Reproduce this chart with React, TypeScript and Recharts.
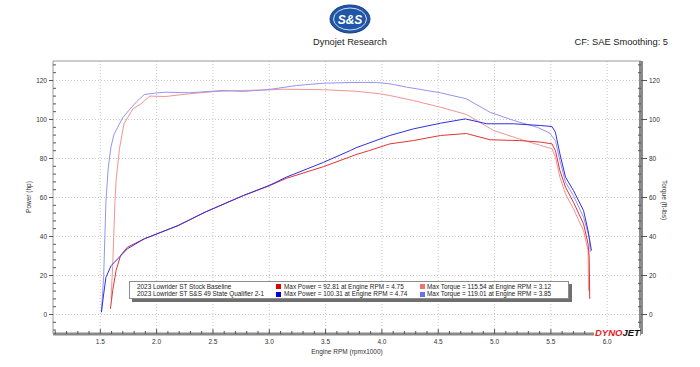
import { LineChart, Line, XAxis, YAxis, CartesianGrid, Legend } from 'recharts';

const FONT = '"Liberation Sans", Arial, sans-serif';

// engine rpm (x1000) and values read off the dyno sheet
const stockPowerRpm = [1.59, 1.61, 1.64, 1.68, 1.74, 1.89, 2.04, 2.19, 2.43, 2.77, 3.0, 3.15, 3.48, 3.77, 3.89, 4.07, 4.28, 4.52, 4.75, 4.96, 5.22, 5.41, 5.51, 5.54, 5.58, 5.63, 5.7, 5.79, 5.83, 5.84, 5.845];
const stockPower = [2.9, 12.3, 22.6, 30.3, 34.5, 38.8, 42.2, 45.6, 52.5, 61, 66, 69.8, 75.8, 82, 84.1, 87.5, 89.2, 91.8, 92.81, 89.6, 89.2, 88.4, 87.5, 84.1, 73.8, 65.3, 57.6, 46.5, 36.2, 29.4, 8];

const ssPowerRpm = [1.51, 1.53, 1.55, 1.595, 1.654, 1.74, 1.89, 2.04, 2.19, 2.43, 2.77, 3.0, 3.15, 3.48, 3.72, 3.77, 4.07, 4.28, 4.52, 4.74, 4.93, 5.17, 5.41, 5.51, 5.54, 5.58, 5.63, 5.7, 5.79, 5.83, 5.85, 5.86];
const ssPower = [1.2, 10.6, 19, 25, 28.5, 33.7, 38.8, 42.2, 45.6, 52.5, 61, 66.2, 70.4, 78, 84.1, 85.5, 91.8, 95.2, 98.1, 100.31, 97.8, 97.8, 96.9, 96.4, 93.5, 82.4, 70.4, 63.6, 53.3, 43, 36.2, 32.8];

const stockTorqueRpm = [1.595, 1.61, 1.63, 1.64, 1.67, 1.71, 1.79, 1.86, 1.94, 2.08, 2.29, 2.53, 2.77, 3.0, 3.12, 3.3, 3.48, 3.77, 3.98, 4.07, 4.28, 4.52, 4.75, 4.99, 5.22, 5.41, 5.51, 5.54, 5.58, 5.63, 5.7, 5.79, 5.83, 5.835];
const stockTorque = [8, 25, 58, 68.7, 85, 97.8, 105.5, 108, 112, 111.8, 113.2, 114.4, 114.9, 115.2, 115.54, 115.4, 115.3, 114.5, 113.2, 112.3, 109.7, 106.3, 102.6, 94.4, 90, 86.7, 85, 80.7, 70.4, 61.8, 54.2, 43, 32.8, 12];

const ssTorqueRpm = [1.51, 1.53, 1.55, 1.57, 1.595, 1.62, 1.654, 1.7, 1.758, 1.82, 1.89, 1.98, 2.08, 2.29, 2.59, 2.77, 3.0, 3.24, 3.48, 3.77, 3.85, 3.95, 4.07, 4.22, 4.52, 4.75, 4.96, 5.17, 5.38, 5.49, 5.54, 5.58, 5.63, 5.7, 5.79, 5.84, 5.85];
const ssTorque = [1.2, 20, 58, 75, 86, 92, 96, 101, 105, 109, 112.8, 113.5, 114, 113.7, 114.9, 114.4, 115.4, 117.4, 118.6, 119, 119.01, 119, 118.3, 116.6, 113.7, 110.6, 103.7, 99.5, 96, 93, 89.2, 79, 67.8, 61, 49.9, 39.6, 32];

const runNames = ['2023 Lowrider ST Stock Baseline', '2023 Lowrider ST S&S 49 State Qualifier 2-1'];
const maxPower = [92.81, 100.31];
const maxPowerRpm = [4.75, 4.74];
const maxTorque = [115.54, 119.01];
const maxTorqueRpm = [3.12, 3.85];

const xMajor = [1.5, 2.0, 2.5, 3.0, 3.5, 4.0, 4.5, 5.0, 5.5, 6.0];
const xTicks = Array.from({ length: 52 }, (_, i) => Math.round((1.1 + i * 0.1) * 10) / 10);
const yMajor = [0, 20, 40, 60, 80, 100, 120];
const yTicks = Array.from({ length: 35 }, (_, i) => -8 + i * 4);

const toRows = (rpm: number[], vals: number[]) => rpm.map((r, i) => ({ rpm: r, value: vals[i] }));

const powerColors = ['#e03434', '#3030e0'];
const torqueColors = ['#f29494', '#9494f2'];
const squarePower = ['#e00000', '#0000d8'];
const squareTorque = ['#f07474', '#6c6cf0'];

const XTick = (props: any) => {
  const { x, y, payload } = props;
  const v = payload.value;
  const major = Math.abs(v * 2 - Math.round(v * 2)) < 1e-6;
  return (
    <g>
      <line x1={x} x2={x} y1={y} y2={y - (major ? 5 : 3)} stroke="#555" />
      {major && (
        <text x={x} y={y + 10} textAnchor="middle" fontSize={6.5} fill="#333" fontFamily={FONT}>
          {v.toFixed(1)}
        </text>
      )}
    </g>
  );
};

const LeftTick = (props: any) => {
  const { x, y, payload } = props;
  const major = payload.value % 20 === 0;
  return (
    <g>
      <line x1={x} x2={major ? x - 4 : x + 3} y1={y} y2={y} stroke="#555" />
      {major && (
        <text x={x - 6} y={y + 2.3} textAnchor="end" fontSize={6.5} fill="#333" fontFamily={FONT}>
          {payload.value}
        </text>
      )}
    </g>
  );
};

const RightTick = (props: any) => {
  const { x, y, payload } = props;
  const major = payload.value % 20 === 0;
  return (
    <g>
      <line x1={x} x2={major ? x + 6 : x - 3} y1={y} y2={y} stroke="#555" />
      {major && (
        <text x={x + 8} y={y + 2.3} textAnchor="start" fontSize={6.5} fill="#333" fontFamily={FONT}>
          {payload.value}
        </text>
      )}
    </g>
  );
};

const LegendBox = () => (
  <div
    style={{
      position: 'relative',
      width: 438,
      height: 16,
      border: '1px solid #8c8c8c',
      background: '#fff',
      boxShadow: '3px 3px 0 #707070',
      fontSize: 6.4,
      color: '#222',
      fontFamily: FONT,
      lineHeight: '8px',
      whiteSpace: 'nowrap',
    }}
  >
    {runNames.map((name, i) => (
      <div key={name} style={{ position: 'absolute', left: 0, top: 0.5 + i * 7.8, height: 8, width: '100%' }}>
        <span style={{ position: 'absolute', left: 7 }}>{name}</span>
        <span style={{ position: 'absolute', left: 146, top: 1.5, width: 5, height: 5, background: squarePower[i] }} />
        <span style={{ position: 'absolute', left: 154 }}>
          {`Max Power = ${maxPower[i].toFixed(2)} at Engine RPM = ${maxPowerRpm[i].toFixed(2)}`}
        </span>
        <span style={{ position: 'absolute', left: 290, top: 1.5, width: 5, height: 5, background: squareTorque[i] }} />
        <span style={{ position: 'absolute', left: 297 }}>
          {`Max Torque = ${maxTorque[i].toFixed(2)} at Engine RPM = ${maxTorqueRpm[i].toFixed(2)}`}
        </span>
      </div>
    ))}
  </div>
);

export default function App() {
  return (
    <div style={{ position: 'absolute', left: 0, top: 0, width: 700, height: 367, background: '#fff', fontFamily: FONT }}>
      <LineChart
        width={700}
        height={367}
        margin={{ top: 51, right: 39, bottom: 13, left: 33 }}
        style={{ position: 'absolute', left: 0, top: 0 }}
      >
        <CartesianGrid
          yAxisId="left"
          verticalValues={xMajor}
          horizontalValues={yMajor}
          stroke="#c8c8c8"
          strokeDasharray="1 2"
        />
        <XAxis
          type="number"
          dataKey="rpm"
          domain={[1.08, 6.3]}
          ticks={xTicks}
          interval={0}
          allowDataOverflow
          height={20}
          tickSize={0}
          tickMargin={0}
          tickLine={false}
          tick={<XTick />}
          axisLine={{ stroke: '#8a8a8a', strokeWidth: 3 }}
        />
        <XAxis
          xAxisId="top"
          orientation="top"
          type="number"
          domain={[1.08, 6.3]}
          height={10}
          tick={false}
          tickLine={false}
          axisLine={{ stroke: '#9a9a9a' }}
        />
        <YAxis
          yAxisId="left"
          type="number"
          domain={[-10, 130]}
          ticks={yTicks}
          interval={0}
          allowDataOverflow
          width={20}
          tickSize={0}
          tickMargin={0}
          tickLine={false}
          tick={<LeftTick />}
          axisLine={{ stroke: '#9a9a9a' }}
        />
        <YAxis
          yAxisId="right"
          orientation="right"
          type="number"
          domain={[-10, 130]}
          ticks={yTicks}
          interval={0}
          allowDataOverflow
          width={20}
          tickSize={0}
          tickMargin={0}
          tickLine={false}
          tick={<RightTick />}
          axisLine={{ stroke: '#8a8a8a', strokeWidth: 4 }}
        />
        <Legend
          layout="horizontal"
          verticalAlign="middle"
          align="center"
          content={<LegendBox />}
          wrapperStyle={{ left: 129, top: 281, width: 440, height: 18 }}
        />
        <Line yAxisId="right" data={toRows(stockTorqueRpm, stockTorque)} dataKey="value" name="Stock torque" stroke={torqueColors[0]} strokeWidth={1} dot={false} isAnimationActive={false} />
        <Line yAxisId="right" data={toRows(ssTorqueRpm, ssTorque)} dataKey="value" name="S&S torque" stroke={torqueColors[1]} strokeWidth={1} dot={false} isAnimationActive={false} />
        <Line yAxisId="left" data={toRows(stockPowerRpm, stockPower)} dataKey="value" name="Stock power" stroke={powerColors[0]} strokeWidth={1} dot={false} isAnimationActive={false} />
        <Line yAxisId="left" data={toRows(ssPowerRpm, ssPower)} dataKey="value" name="S&S power" stroke={powerColors[1]} strokeWidth={1} dot={false} isAnimationActive={false} />
      </LineChart>
      <svg width={700} height={367} style={{ position: 'absolute', left: 0, top: 0, pointerEvents: 'none' }}>
        <ellipse cx={350} cy={19} rx={20} ry={14} fill="#1f56a8" stroke="#163f80" />
        <ellipse cx={350} cy={19} rx={16.5} ry={11} fill="none" stroke="#fff" strokeWidth={0.8} />
        <text x={350} y={23.5} textAnchor="middle" fontSize={12} fontWeight="bold" fontStyle="italic" fill="#fff" fontFamily={FONT}>
          S&amp;S
        </text>
        <text x={350} y={45} textAnchor="middle" fontSize={9.3} fill="#222" fontFamily={FONT}>
          Dynojet Research
        </text>
        <text x={668} y={45} textAnchor="end" fontSize={9.3} fill="#222" fontFamily={FONT}>
          CF: SAE Smoothing: 5
        </text>
        <text transform="translate(31,197) rotate(-90)" textAnchor="middle" fontSize={6.5} fill="#333" fontFamily={FONT}>
          Power (hp)
        </text>
        <text transform="translate(662,200) rotate(90)" textAnchor="middle" fontSize={6.5} fill="#333" fontFamily={FONT}>
          Torque (ft-lbs)
        </text>
        <text x={347} y={354} textAnchor="middle" fontSize={6.5} fill="#333" fontFamily={FONT}>
          Engine RPM (rpmx1000)
        </text>
        <rect x={594} y={328} width={46} height={9} fill="#fff" />
        <text x={595} y={336} fontSize={9.5} fontWeight="bold" fontStyle="italic" fontFamily={FONT}>
          <tspan fill="#e4202a">DYNO</tspan>
          <tspan fill="#111">JET</tspan>
        </text>
      </svg>
    </div>
  );
}
